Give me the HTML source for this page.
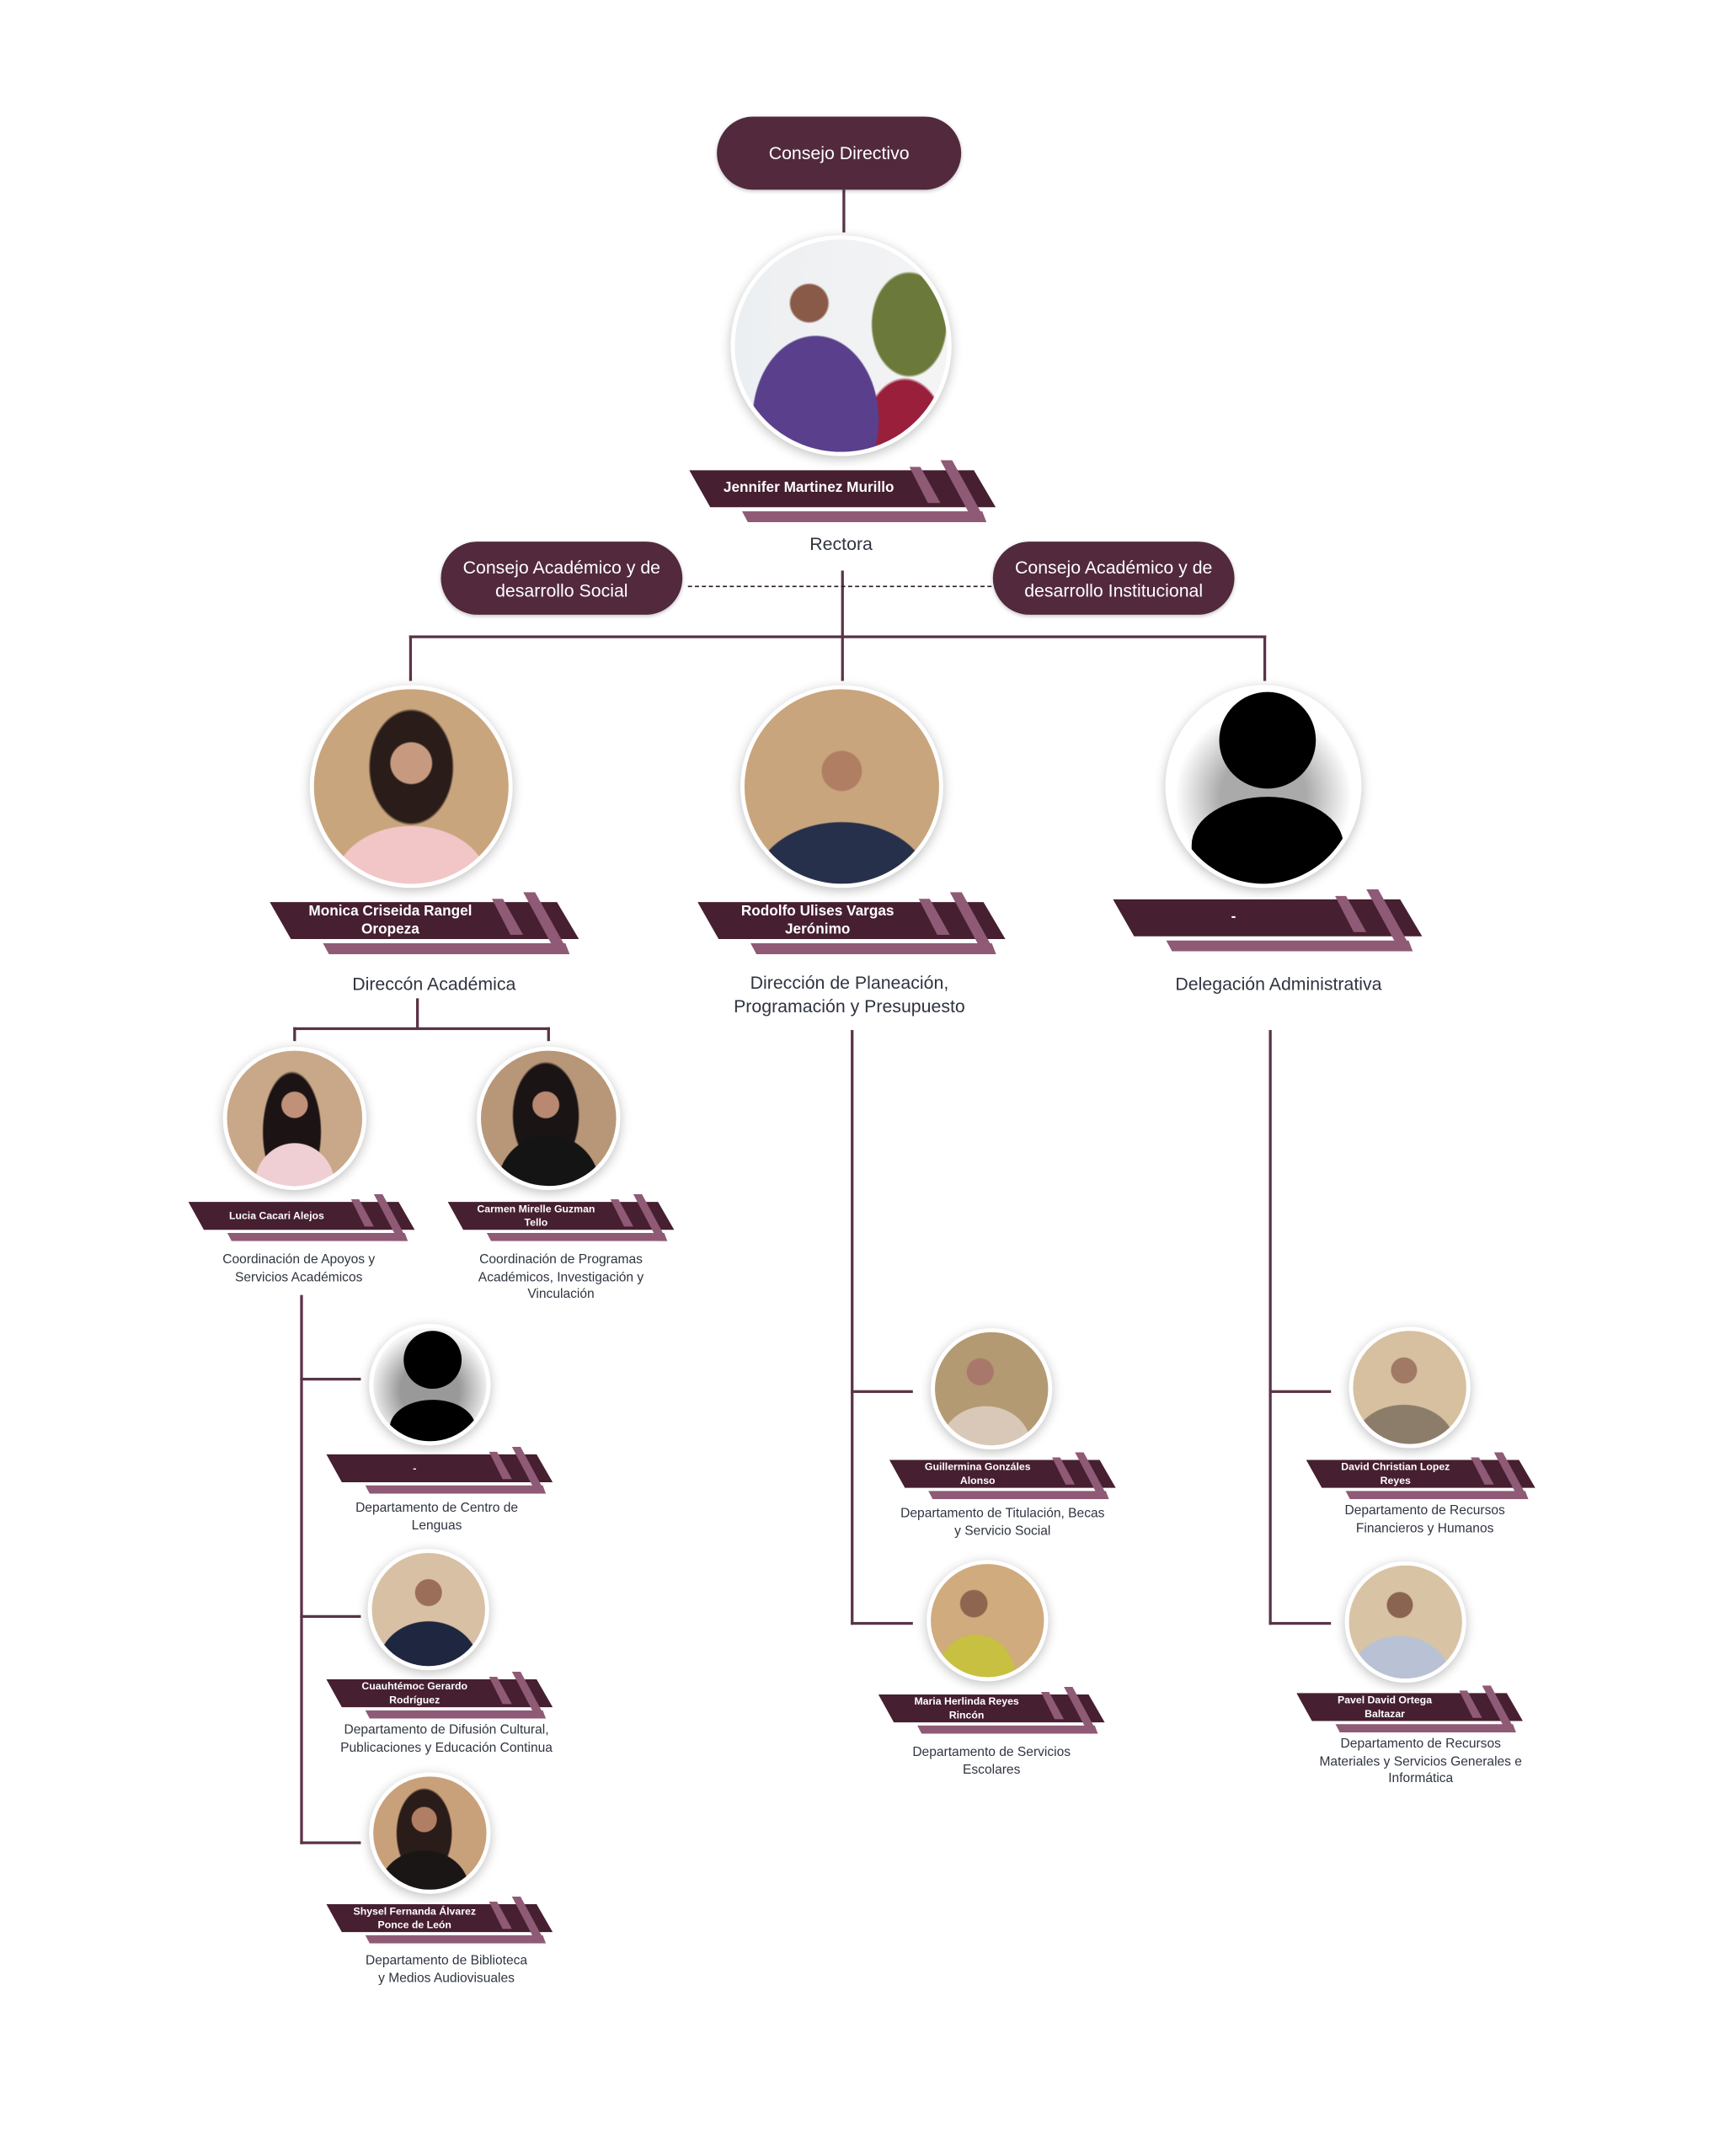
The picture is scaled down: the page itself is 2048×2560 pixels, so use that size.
<!DOCTYPE html>
<html><head><meta charset="utf-8">
<style>
html,body{margin:0;padding:0;background:#fff;}
body{width:2048px;height:2560px;overflow:hidden;position:relative;}
#w{position:absolute;left:0;top:0;width:1250px;height:1563px;transform:scale(1.6384) translate(-1.5px,-1.5px);transform-origin:0 0;font-family:"Liberation Sans",sans-serif;}
.a{position:absolute;}
.ln{position:absolute;background:#5a3347;}
.pill{position:absolute;background:#52293d;color:#fff;border-radius:28px;display:flex;align-items:center;justify-content:center;text-align:center;font-size:13px;line-height:17px;box-shadow:0 1px 3px rgba(0,0,0,.25);}
.c{position:absolute;border-radius:50%;border:3px solid #fff;box-shadow:0 2px 8px rgba(0,0,0,.25);box-sizing:border-box;overflow:hidden;}
.b{position:absolute;}
.b svg{position:absolute;left:0;top:0;width:100%;height:100%;}
.b .n{position:absolute;left:3%;width:72%;top:16%;height:60%;display:flex;align-items:center;justify-content:center;text-align:center;color:#fff;font-weight:bold;}
.L .n{font-size:10.5px;line-height:13px;}
.S .n{font-size:7.5px;line-height:9.5px;}
.t{position:absolute;text-align:center;color:#2f3440;}
.t1{font-size:13px;line-height:17px;}
.t2{font-size:9.5px;line-height:12.5px;}
.sil{background:#fff;}
.sil .h{position:absolute;border-radius:50%;background:#000;}
.sil .bd{position:absolute;border-radius:50% 50% 0 0;background:#000;}
</style></head><body>
<svg width="0" height="0" style="position:absolute">
<defs>
<symbol id="bn" viewBox="0 0 366 74" preserveAspectRatio="none">
<polygon points="0,12 340,12 366,56 25,56" fill="#461f30"/>
<polygon points="263,8 276,8 300,51 285,51" fill="#8f5a75"/>
<polygon points="63,61 350,61 355,74 70,74" fill="#8f5a75"/>
<polygon points="300,0 314,0 355,74 340,74" fill="#8f5a75"/>
</symbol>
</defs>
</svg>
<div id="w">
<div class="ln" style="left:612px;top:139px;width:2px;height:31px"></div>
<div class="ln" style="left:611px;top:415px;width:2px;height:80px"></div>
<div class="a" style="left:500px;top:426px;width:220px;border-top:1.5px dashed #2a1a22"></div>
<div class="ln" style="left:298px;top:462px;width:621px;height:2px"></div>
<div class="ln" style="left:298px;top:462px;width:2px;height:33px"></div>
<div class="ln" style="left:917px;top:462px;width:2px;height:33px"></div>

<div class="ln" style="left:303px;top:725px;width:2px;height:22px"></div>
<div class="ln" style="left:214px;top:746px;width:186px;height:2px"></div>
<div class="ln" style="left:214px;top:746px;width:2px;height:10px"></div>
<div class="ln" style="left:398px;top:746px;width:2px;height:10px"></div>

<div class="ln" style="left:219px;top:940px;width:2px;height:398px"></div>
<div class="ln" style="left:219px;top:1000px;width:44px;height:2px"></div>
<div class="ln" style="left:219px;top:1172px;width:44px;height:2px"></div>
<div class="ln" style="left:219px;top:1336px;width:44px;height:2px"></div>

<div class="ln" style="left:618px;top:748px;width:2px;height:431px"></div>
<div class="ln" style="left:618px;top:1009px;width:45px;height:2px"></div>
<div class="ln" style="left:618px;top:1177px;width:45px;height:2px"></div>

<div class="ln" style="left:921px;top:748px;width:2px;height:431px"></div>
<div class="ln" style="left:921px;top:1009px;width:45px;height:2px"></div>
<div class="ln" style="left:921px;top:1177px;width:45px;height:2px"></div>

<div class="pill" style="left:521px;top:86px;width:177px;height:53px">Consejo Directivo</div>
<div class="pill" style="left:321px;top:394px;width:175px;height:53px">Consejo Académico y de<br>desarrollo Social</div>
<div class="pill" style="left:721px;top:394px;width:175px;height:53px">Consejo Académico y de<br>desarrollo Institucional</div>

<div class="c" style="left:531px;top:172px;width:160px;height:160px;background:radial-gradient(circle at 35% 30%,#8a5a48 0 9%,transparent 10%),radial-gradient(ellipse 30% 40% at 38% 85%,#5a3f8c 0 98%,transparent 100%),radial-gradient(ellipse 18% 25% at 82% 40%,#6b7a3a 0 95%,transparent 100%),radial-gradient(ellipse 20% 30% at 80% 95%,#9a1f3a 0 95%,transparent 100%),linear-gradient(90deg,#eceff2,#f4f4f4)"></div>

<div class="c" style="left:226px;top:498px;width:147px;height:147px;background:radial-gradient(circle at 50% 38%,#c79a80 0 13%,transparent 14%),radial-gradient(ellipse 40% 30% at 50% 100%,#f2c6c6 0 98%,transparent 100%),radial-gradient(ellipse 22% 30% at 50% 40%,#2a1c18 0 95%,transparent 100%),#c9a57e"></div>
<div class="c" style="left:538px;top:498px;width:147px;height:147px;background:radial-gradient(circle at 50% 42%,#b07e62 0 13%,transparent 14%),radial-gradient(ellipse 45% 32% at 50% 100%,#26304a 0 98%,transparent 100%),#c9a57e"></div>
<div class="c sil" style="left:846px;top:498px;width:142px;height:147px;border-color:#fff;background:radial-gradient(circle at 50% 55%,#aaa 0 30%,#fff 62%)">
<div class="h" style="left:36px;top:2px;width:70px;height:70px"></div>
<div class="bd" style="left:16px;top:78px;width:110px;height:70px"></div></div>

<div class="c" style="left:163px;top:760px;width:104px;height:104px;background:radial-gradient(circle at 50% 40%,#c09078 0 12%,transparent 13%),radial-gradient(ellipse 30% 32% at 50% 100%,#f0cfd4 0 98%,transparent 100%),radial-gradient(ellipse 22% 45% at 48% 60%,#1c1414 0 95%,transparent 100%),#c8a888"></div>
<div class="c" style="left:347px;top:760px;width:104px;height:104px;background:radial-gradient(circle at 48% 40%,#b88870 0 12%,transparent 13%),radial-gradient(ellipse 38% 38% at 50% 100%,#141414 0 98%,transparent 100%),radial-gradient(ellipse 25% 40% at 48% 48%,#1a1414 0 95%,transparent 100%),#b89678"></div>

<div class="c sil" style="left:269px;top:961px;width:88px;height:88px;background:radial-gradient(circle at 50% 55%,#999 0 35%,#f4f4f4 70%)">
<div class="h" style="left:22px;top:2px;width:42px;height:42px"></div>
<div class="bd" style="left:12px;top:52px;width:62px;height:40px"></div></div>
<div class="c" style="left:268px;top:1124px;width:88px;height:88px;background:radial-gradient(circle at 50% 35%,#9a6e58 0 14%,transparent 15%),radial-gradient(ellipse 45% 40% at 50% 100%,#1e2640 0 98%,transparent 100%),#d8c0a4"></div>
<div class="c" style="left:269px;top:1286px;width:88px;height:88px;background:radial-gradient(circle at 45% 38%,#b07e64 0 13%,transparent 14%),radial-gradient(ellipse 40% 35% at 45% 100%,#1a1616 0 98%,transparent 100%),radial-gradient(ellipse 25% 40% at 45% 50%,#2a1c18 0 95%,transparent 100%),#c8a07a"></div>

<div class="c" style="left:676px;top:964px;width:88px;height:88px;background:radial-gradient(circle at 40% 35%,#a8786a 0 13%,transparent 14%),radial-gradient(ellipse 40% 35% at 45% 100%,#d9c8b8 0 98%,transparent 100%),#b39a72"></div>
<div class="c" style="left:673px;top:1132px;width:88px;height:88px;background:radial-gradient(circle at 38% 35%,#8e6650 0 13%,transparent 14%),radial-gradient(ellipse 35% 38% at 40% 100%,#c8c040 0 98%,transparent 100%),#cfab7e"></div>
<div class="c" style="left:979px;top:963px;width:88px;height:88px;background:radial-gradient(circle at 45% 35%,#a07a64 0 13%,transparent 14%),radial-gradient(ellipse 45% 35% at 45% 100%,#8c7c6a 0 98%,transparent 100%),#d6c0a0"></div>
<div class="c" style="left:976px;top:1133px;width:88px;height:88px;background:radial-gradient(circle at 45% 35%,#8a6450 0 13%,transparent 14%),radial-gradient(ellipse 45% 38% at 45% 100%,#b8c2d4 0 98%,transparent 100%),#d8c4a4"></div>

<div class="b L" style="left:501px;top:335px;width:222px;height:45px"><svg><use href="#bn"/></svg><div class="n">Jennifer Martinez Murillo</div></div>
<div class="b L" style="left:197px;top:648px;width:224px;height:45px"><svg><use href="#bn"/></svg><div class="n">Monica Criseida Rangel<br>Oropeza</div></div>
<div class="b L" style="left:507px;top:648px;width:223px;height:45px"><svg><use href="#bn"/></svg><div class="n">Rodolfo Ulises Vargas<br>Jerónimo</div></div>
<div class="b L" style="left:808px;top:646px;width:224px;height:45px"><svg><use href="#bn"/></svg><div class="n">-</div></div>

<div class="b S" style="left:138px;top:867px;width:164px;height:34px"><svg><use href="#bn"/></svg><div class="n">Lucia Cacari Alejos</div></div>
<div class="b S" style="left:326px;top:867px;width:164px;height:34px"><svg><use href="#bn"/></svg><div class="n">Carmen Mirelle Guzman<br>Tello</div></div>
<div class="b S" style="left:238px;top:1050px;width:164px;height:34px"><svg><use href="#bn"/></svg><div class="n">-</div></div>
<div class="b S" style="left:238px;top:1213px;width:164px;height:34px"><svg><use href="#bn"/></svg><div class="n">Cuauhtémoc Gerardo<br>Rodríguez</div></div>
<div class="b S" style="left:238px;top:1376px;width:164px;height:34px"><svg><use href="#bn"/></svg><div class="n">Shysel Fernanda Álvarez<br>Ponce de León</div></div>
<div class="b S" style="left:646px;top:1054px;width:164px;height:34px"><svg><use href="#bn"/></svg><div class="n">Guillermina Gonzáles<br>Alonso</div></div>
<div class="b S" style="left:638px;top:1224px;width:164px;height:34px"><svg><use href="#bn"/></svg><div class="n">Maria Herlinda Reyes<br>Rincón</div></div>
<div class="b S" style="left:948px;top:1054px;width:166px;height:34px"><svg><use href="#bn"/></svg><div class="n">David Christian Lopez<br>Reyes</div></div>
<div class="b S" style="left:941px;top:1223px;width:164px;height:34px"><svg><use href="#bn"/></svg><div class="n">Pavel David Ortega<br>Baltazar</div></div>

<div class="t t1" style="left:511px;top:387px;width:200px">Rectora</div>
<div class="t t1" style="left:196px;top:706px;width:240px">Direccón Académica</div>
<div class="t t1" style="left:497px;top:705px;width:240px">Dirección de Planeación,<br>Programación y Presupuesto</div>
<div class="t t1" style="left:808px;top:706px;width:240px">Delegación Administrativa</div>

<div class="t t2" style="left:138px;top:909px;width:160px">Coordinación de Apoyos y<br>Servicios Académicos</div>
<div class="t t2" style="left:328px;top:909px;width:160px">Coordinación de Programas<br>Académicos, Investigación y<br>Vinculación</div>
<div class="t t2" style="left:218px;top:1089px;width:200px">Departamento de Centro de<br>Lenguas</div>
<div class="t t2" style="left:210px;top:1250px;width:230px">Departamento de Difusión Cultural,<br>Publicaciones y Educación Continua</div>
<div class="t t2" style="left:225px;top:1417px;width:200px">Departamento de Biblioteca<br>y Medios Audiovisuales</div>
<div class="t t2" style="left:628px;top:1093px;width:200px">Departamento de Titulación, Becas<br>y Servicio Social</div>
<div class="t t2" style="left:620px;top:1266px;width:200px">Departamento de Servicios<br>Escolares</div>
<div class="t t2" style="left:934px;top:1091px;width:200px">Departamento de Recursos<br>Financieros y Humanos</div>
<div class="t t2" style="left:921px;top:1260px;width:220px">Departamento de Recursos<br>Materiales y Servicios Generales e<br>Informática</div>
</div>
</body></html>
